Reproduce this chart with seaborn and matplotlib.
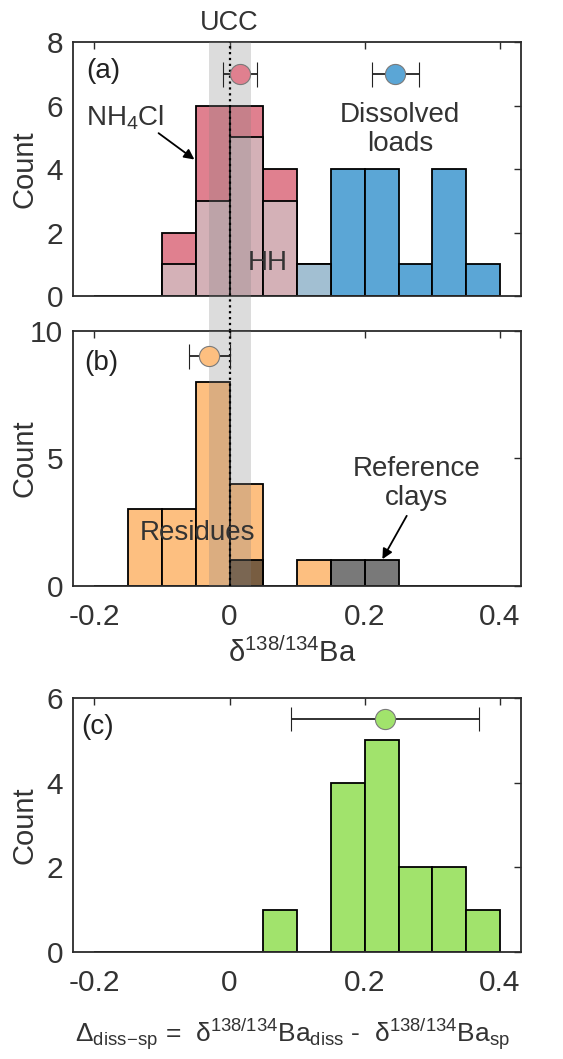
import numpy as np
import matplotlib
matplotlib.use("Agg")
import matplotlib.pyplot as plt
import seaborn as sns

# ---- data -------------------------------------------------------------
bin_edges = [-0.20, -0.15, -0.10, -0.05, 0.00, 0.05, 0.10, 0.15, 0.20, 0.25, 0.30, 0.35, 0.40]

# (a) suspended-sediment leachates and dissolved loads
nh4cl_counts = [0, 0, 2, 6, 6, 4, 0, 0, 0, 0, 0, 0]
hh_counts = [0, 0, 1, 3, 5, 3, 1, 0, 0, 0, 0, 0]
dissolved_counts = [0, 0, 0, 0, 0, 0, 1, 4, 4, 1, 4, 1]

# (b) residues and reference clays
residue_counts = [0, 3, 3, 8, 4, 0, 1, 0, 0, 0, 0, 0]
clay_counts = [0, 0, 0, 0, 1, 0, 0, 1, 1, 0, 0, 0]

# (c) dissolved minus suspended offsets
offset_counts = [0, 0, 0, 0, 0, 1, 0, 4, 5, 2, 2, 1]

# means with uncertainty (value, y position, half-width)
nh4cl_mean = (0.016, 7.0, 0.025)
dissolved_mean = (0.245, 7.0, 0.035)
residue_mean = (-0.030, 9.0, 0.030)
offset_mean = (0.230, 5.5, 0.139)

ucc_range = (-0.031, 0.032)

x_ticks = [-0.2, 0, 0.2, 0.4]
x_tick_labels = ["-0.2", "0", "0.2", "0.4"]

# ---- styling ----------------------------------------------------------
sns.set_theme(style="white")
plt.rcParams["font.family"] = ["Liberation Sans", "DejaVu Sans"]
plt.rcParams["mathtext.fontset"] = "custom"
plt.rcParams["mathtext.rm"] = "Liberation Sans"
plt.rcParams["mathtext.it"] = "Liberation Sans:italic"
plt.rcParams["mathtext.bf"] = "Liberation Sans:bold"

PINK = "#e0808f"
BLUE = "#5ba6d6"
ORANGE = "#fdbf80"
GREEN = "#a1e36c"
HH_GRAY = "#cdced0"
TXT = "#333333"
SPINE = "#2b2b2b"

centers = [(a + b) / 2 for a, b in zip(bin_edges[:-1], bin_edges[1:])]
xlim = (-0.2315, 0.431)

fig = plt.figure(figsize=(5.63, 10.59), dpi=100)
left, width = 0.1297, 0.7957
ax_a = fig.add_axes([left, 0.7205, width, 0.2398])
ax_b = fig.add_axes([left, 0.4467, width, 0.2408])
ax_c = fig.add_axes([left, 0.1010, width, 0.2398])


def hist(ax, counts, color, alpha=1.0):
    sns.histplot(x=centers, weights=counts, bins=bin_edges, ax=ax,
                 color=color, alpha=alpha, edgecolor="black", linewidth=1.3)


def mean_marker(ax, m, color, capsize):
    x, y, err = m
    ax.errorbar([x], [y], xerr=[err], fmt="o", color="#222222", ecolor="#222222",
                elinewidth=1.3, capsize=capsize, capthick=1.3,
                markersize=14.5, markerfacecolor=color, markeredgecolor="#7a7a7a",
                markeredgewidth=0.8, zorder=6, clip_on=False)


def style(ax, ylim, yticks, show_xlabels):
    ax.set_xlim(*xlim)
    ax.set_ylim(*ylim)
    ax.set_xticks(x_ticks)
    ax.set_xticklabels(x_tick_labels if show_xlabels else [])
    ax.set_yticks(yticks)
    ax.tick_params(direction="in", top=True, right=True, length=5, width=1,
                   colors=SPINE, labelcolor=TXT, labelsize=21.5)
    ax.tick_params(axis="x", pad=12)
    ax.tick_params(axis="y", pad=7)
    for s in ax.spines.values():
        s.set_color(SPINE)
        s.set_linewidth(1.3)
    ax.set_ylabel("Count", fontsize=21, color=TXT)
    ax.yaxis.label.set_verticalalignment("center")
    ax.yaxis.set_label_coords(-0.108, 0.5)
    ax.set_xlabel("")


def arrow(ax, start, end):
    ax.annotate("", xy=end, xytext=start, zorder=7,
                arrowprops=dict(arrowstyle="-|>", color="black", lw=1.3,
                                shrinkA=0, shrinkB=0, mutation_scale=15))


# (a)
hist(ax_a, nh4cl_counts, PINK)
hist(ax_a, dissolved_counts, BLUE)
hist(ax_a, hh_counts, HH_GRAY, alpha=0.63)
style(ax_a, (0, 8), [0, 2, 4, 6, 8], False)
mean_marker(ax_a, nh4cl_mean, PINK, 9)
mean_marker(ax_a, dissolved_mean, BLUE, 9)

# (b)
hist(ax_b, residue_counts, ORANGE)
hist(ax_b, clay_counts, "#101010", alpha=0.56)
style(ax_b, (0, 10), [0, 5, 10], True)
mean_marker(ax_b, residue_mean, ORANGE, 9)
ax_b.set_xlabel(r"δ$^{138/134}$Ba", fontsize=21, color=TXT)
ax_b.xaxis.label.set_verticalalignment("center")
ax_b.xaxis.set_label_coords(0.49, -0.263)

# (c)
hist(ax_c, offset_counts, GREEN)
style(ax_c, (0, 6), [0, 2, 4, 6], True)
mean_marker(ax_c, offset_mean, GREEN, 8.5)
ax_c.set_xlabel(r"$\Delta_{\mathrm{diss}\!-\!\mathrm{sp}}$ =  δ$^{138/134}$Ba$_{\mathrm{diss}}$ -  δ$^{138/134}$Ba$_{\mathrm{sp}}$",
                fontsize=19, color=TXT)
ax_c.xaxis.label.set_verticalalignment("center")
ax_c.xaxis.set_label_coords(0.49, -0.322)

# UCC band and reference line across panels (a) and (b)
gap = 35 / 254
ax_a.axvspan(*ucc_range, ymin=-gap, ymax=1, color="#808080", alpha=0.27,
             lw=0, zorder=3, clip_on=False)
ax_b.axvspan(*ucc_range, ymin=0, ymax=1, color="#808080", alpha=0.27,
             lw=0, zorder=3)
ax_a.axvline(0, ymin=-gap, ymax=1, color="black", ls=":", lw=1.6,
             zorder=4, clip_on=False)
ax_b.axvline(0, color="black", ls=":", lw=1.6, zorder=4)

# annotations
ax_a.text(0.0, 8.6, "UCC", ha="center", va="center", fontsize=19.5,
          color=TXT, clip_on=False)
ax_a.text(-0.212, 7.1, "(a)", ha="left", va="center", fontsize=20, color="#222222")
ax_a.text(-0.212, 5.6, r"NH$_4$Cl", ha="left", va="center", fontsize=20,
          color=TXT, zorder=7)
arrow(ax_a, (-0.105, 5.13), (-0.052, 4.3))
ax_a.text(0.252, 5.23, "Dissolved\nloads", ha="center", va="center",
          fontsize=20, color=TXT, linespacing=1.15, zorder=7)
ax_a.text(0.056, 1.04, "HH", ha="center", va="center", fontsize=20,
          color=TXT, zorder=7)

ax_b.text(-0.215, 8.75, "(b)", ha="left", va="center", fontsize=20, color="#222222")
ax_b.text(-0.048, 2.08, "Residues", ha="center", va="center", fontsize=20,
          color=TXT, zorder=7)
ax_b.text(0.277, 4.0, "Reference\nclays", ha="center", va="center",
          fontsize=20, color=TXT, linespacing=1.15, zorder=7)
arrow(ax_b, (0.262, 2.75), (0.226, 1.05))

ax_c.text(-0.22, 5.31, "(c)", ha="left", va="center", fontsize=20, color="#222222")

fig.savefig("out.png", dpi=100)
